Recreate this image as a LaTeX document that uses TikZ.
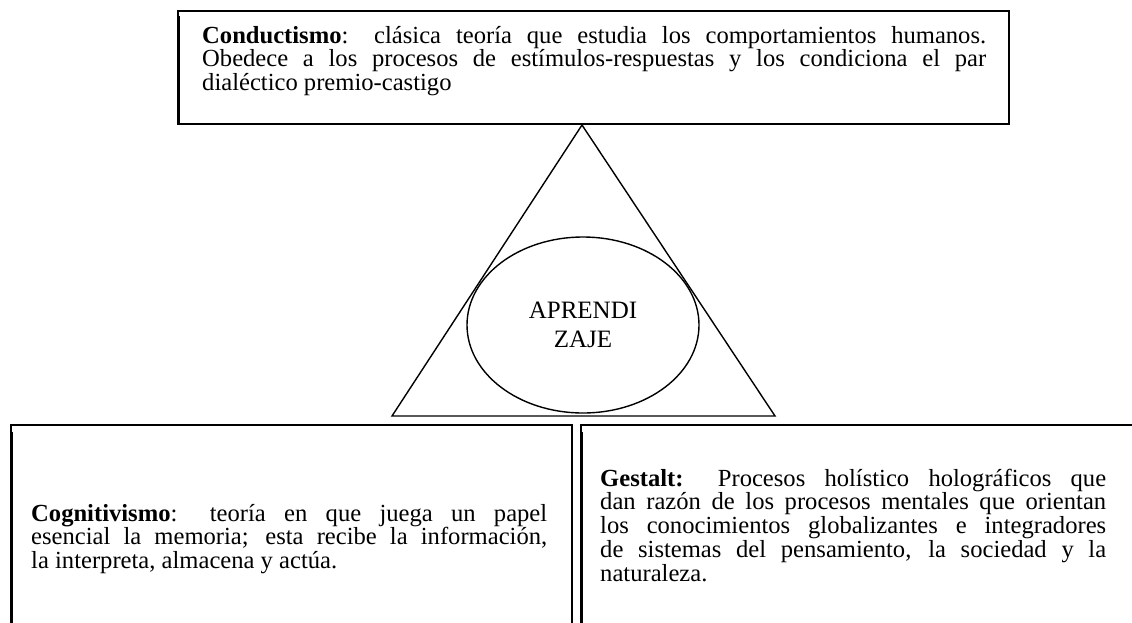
\documentclass[tikz,border=0pt]{standalone}
\usepackage{fontspec}
\setmainfont{Liberation Serif}
\usetikzlibrary{shapes.geometric}
\newcommand{\jline}[1]{\hbox to \hsize{#1}}
\newcommand{\lline}[1]{\hbox{#1}}
\newcommand{\para}[2]{\vtop{\hsize=#1\baselineskip=23.8pt\lineskip=0pt\lineskiplimit=-100pt #2}}
\begin{document}
\begin{tikzpicture}[x=1pt,y=-1pt]
\tikzset{
  boxframe/.style={draw=black, line width=2pt, rectangle, inner sep=0pt, anchor=north west},
  leftbar/.style={line width=3pt},
  shapeline/.style={line width=1.4pt},
  txt/.style={inner sep=0pt, anchor=base west, font=\fontsize{24.6}{23.8}\selectfont},
}
\useasboundingbox (0,0) rectangle (1132,622);
\clip (0,0) rectangle (1132,622);

% top box
\node[boxframe, minimum width=831pt, minimum height=113pt] (topbox) at (177,10) {};
\draw[leftbar] ([xshift=1.5pt,yshift=-6pt]topbox.north west) -- ([xshift=1.5pt]topbox.south west);
\node[txt] (toptext) at (202,43) {\para{784pt}{%
\jline{\textbf{Conductismo}: clásica teoría que estudia los comportamientos humanos.}%
\jline{Obedece a los procesos de estímulos-respuestas y los condiciona el par}%
\lline{dialéctico premio-castigo}}};

% triangle and ellipse
\coordinate (apex) at (582,125);
\coordinate (bl) at (392,416);
\coordinate (br) at (775,416);
\draw[shapeline, line join=miter] (apex) -- (bl) -- (br) -- cycle;
\node[draw, shapeline, ellipse, minimum width=232pt, minimum height=176pt, inner sep=0pt,
      align=center, font=\fontsize{25}{29}\selectfont] (apr) at (583,325) {APRENDI\\ZAJE};

% bottom left box
\node[boxframe, minimum width=561pt, minimum height=230pt] (cogbox) at (10,424) {};
\draw[leftbar] ([xshift=1.5pt,yshift=-8pt]cogbox.north west) -- ([xshift=1.5pt]cogbox.south west);
\node[txt] (cogtext) at (31,521) {\para{516pt}{%
\jline{\textbf{Cognitivismo}: teoría en que juega un papel}%
\jline{esencial la memoria; esta recibe la información,}%
\lline{la interpreta, almacena y actúa.}}};

% bottom right box
\node[boxframe, minimum width=570pt, minimum height=230pt] (gesbox) at (580,424) {};
\draw[leftbar] ([xshift=1.5pt,yshift=-8pt]gesbox.north west) -- ([xshift=1.5pt]gesbox.south west);
\node[txt] (gestext) at (600,486) {\para{506pt}{%
\jline{\textbf{Gestalt:} Procesos holístico holográficos que}%
\jline{dan razón de los procesos mentales que orientan}%
\jline{los conocimientos globalizantes e integradores}%
\jline{de sistemas del pensamiento, la sociedad y la}%
\lline{naturaleza.}}};
\end{tikzpicture}
\end{document}
